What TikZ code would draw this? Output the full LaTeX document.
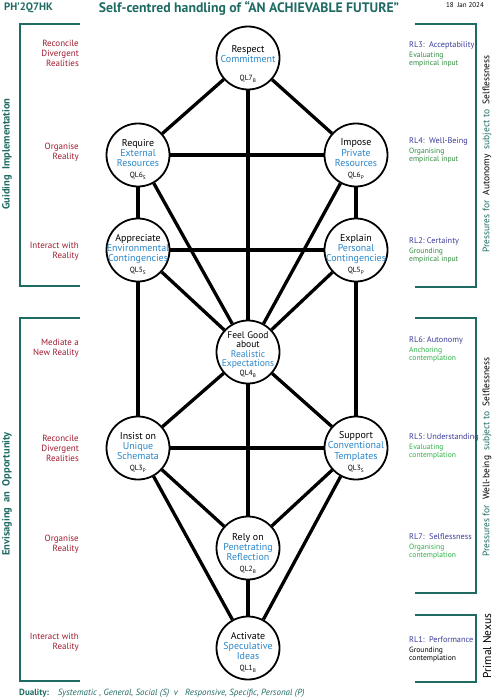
\documentclass[tikz,border=0pt]{standalone}
\usepackage{fontspec}
\setmainfont{PT Sans}
\definecolor{phteal}{HTML}{1F6B64}
\definecolor{realred}{HTML}{A0192E}
\definecolor{qblue}{HTML}{2A86C9}
\definecolor{rlblue}{HTML}{3B3C98}
\definecolor{empgreen}{HTML}{2E8A3E}
\definecolor{congreen}{HTML}{2EAF48}
\newcommand{\qb}[1]{\textcolor{qblue}{#1}}
\newcommand{\rlname}[1]{\textcolor{rlblue}{\fontsize{8.3}{9}\selectfont #1}\\[2bp]}

\begin{document}
\begin{tikzpicture}[x=1bp,y=-1bp,
    qnode/.style={draw,circle,line width=1.8bp,minimum size=63bp,inner sep=0},
    qtext/.style={align=center,inner sep=0,font=\fontsize{10}{10.5}\selectfont},
    qlab/.style={inner sep=0,font=\fontsize{7.5}{8}\selectfont},
    link/.style={line width=3.3bp},
    bracket/.style={draw=phteal,line width=1.6bp},
    levellab/.style={anchor=east,align=right,inner sep=0,text=realred,font=\fontsize{9}{10}\selectfont},
    rllab/.style={anchor=north west,align=left,inner sep=0,font=\fontsize{7.6}{8.3}\selectfont},
    sidelab/.style={rotate=90,inner sep=0,font=\fontsize{9.5}{11}\selectfont}]
  \useasboundingbox (0,0) rectangle (495,700);

  % header
  \node[anchor=west,inner sep=0,text=phteal,font=\bfseries\fontsize{10.8}{12}\selectfont] (code) at (4,8) {PH’2Q7HK};
  \node[inner sep=0,text=phteal,font=\bfseries\fontsize{13.8}{15}\selectfont] (title) at (249,8) {Self-centred handling of “AN ACHIEVABLE FUTURE”};
  \node[anchor=east,inner sep=0,font=\fontsize{7}{8}\selectfont] (date) at (484,5) {18\ \ Jan 2024};

  % holons
  \node[qnode] (ql7) at (248,58) {};
  \node[qnode] (ql6s) at (138,155) {};
  \node[qnode] (ql6p) at (356,155) {};
  \node[qnode] (ql5s) at (138,250) {};
  \node[qnode] (ql5p) at (356,250) {};
  \node[qnode] (ql4) at (248,352) {};
  \node[qnode] (ql3p) at (138,448) {};
  \node[qnode] (ql3s) at (356,448) {};
  \node[qnode] (ql2) at (248,548) {};
  \node[qnode] (ql1) at (248,648) {};

  \node[qtext] (t7) at ([yshift=4bp]ql7) {Respect\\\qb{Commitment}};
  \node[qtext] (t6s) at ([yshift=2bp]ql6s) {Require\\\qb{External}\\\qb{Resources}};
  \node[qtext] (t6p) at ([yshift=2bp]ql6p) {Impose\\\qb{Private}\\\qb{Resources}};
  \node[qtext] (t5s) at ([yshift=1bp]ql5s) {Appreciate\\\qb{Environmental}\\\qb{Contingencies}};
  \node[qtext] (t5p) at ([yshift=1bp]ql5p) {Explain\\\qb{Personal}\\\qb{Contingencies}};
  \node[qtext,font=\fontsize{9.6}{9.5}\selectfont] (t4) at ([yshift=2bp]ql4) {Feel Good\\about\\\qb{Realistic}\\\qb{Expectations}};
  \node[qtext] (t3p) at ([yshift=2bp]ql3p) {Insist on\\\qb{Unique}\\\qb{Schemata}};
  \node[qtext] (t3s) at ([yshift=2bp]ql3s) {Support\\\qb{Conventional}\\\qb{Templates}};
  \node[qtext] (t2) at ([yshift=1bp]ql2) {Rely on\\\qb{Penetrating}\\\qb{Reflection}};
  \node[qtext] (t1) at ([yshift=2bp]ql1) {Activate\\\qb{Speculative}\\\qb{Ideas}};

  \node[qlab] (l7) at ([yshift=-21bp]ql7) {QL7\textsubscript{B}};
  \node[qlab] (l6s) at ([yshift=-21bp]ql6s) {QL6\textsubscript{S}};
  \node[qlab] (l6p) at ([yshift=-21bp]ql6p) {QL6\textsubscript{P}};
  \node[qlab] (l5s) at ([yshift=-21bp]ql5s) {QL5\textsubscript{S}};
  \node[qlab] (l5p) at ([yshift=-21bp]ql5p) {QL5\textsubscript{P}};
  \node[qlab] (l4) at ([yshift=-22bp]ql4) {QL4\textsubscript{B}};
  \node[qlab] (l3p) at ([yshift=-21bp]ql3p) {QL3\textsubscript{P}};
  \node[qlab] (l3s) at ([yshift=-21bp]ql3s) {QL3\textsubscript{S}};
  \node[qlab] (l2) at ([yshift=-22bp]ql2) {QL2\textsubscript{B}};
  \node[qlab] (l1) at ([yshift=-21bp]ql1) {QL1\textsubscript{B}};

  \foreach \a/\b in {ql7/ql6s,ql7/ql6p,ql7/ql4,ql6s/ql6p,ql6s/ql5s,ql6p/ql5p,ql6s/ql4,ql6p/ql4,
      ql5s/ql5p,ql5s/ql4,ql5p/ql4,ql5s/ql3p,ql5p/ql3s,ql4/ql3p,ql4/ql3s,ql4/ql2,
      ql3p/ql3s,ql3p/ql2,ql3s/ql2,ql3p/ql1,ql3s/ql1,ql2/ql1}
    \draw[link] (\a) -- (\b);

  % left side
  \draw[bracket] (80,24) -- (20,24) -- (20,286) -- (80,286);
  \draw[bracket] (80,318) -- (20,318) -- (20,681) -- (80,681);
  \node[sidelab,text=phteal,font=\bfseries\fontsize{10.5}{12}\selectfont] (guide) at (7,154) {Guiding\ \ Implementation};
  \node[sidelab,text=phteal,font=\bfseries\fontsize{10.5}{12}\selectfont] (envis) at (7,494) {Envisaging\ \ an\ \ Opportunity};
  \node[levellab] (lev7a) at (79,53) {Reconcile\\Divergent\\Realities};
  \node[levellab] (lev6a) at (79,152) {Organise\\Reality};
  \node[levellab] (lev5a) at (79,251) {Interact with\\Reality};
  \node[levellab] (lev4) at (79,348) {Mediate a\\New Reality};
  \node[levellab] (lev3) at (79,448) {Reconcile\\Divergent\\Realities};
  \node[levellab] (lev2) at (79,544) {Organise\\Reality};
  \node[levellab] (lev1) at (79,642) {Interact with\\Reality};

  % right side
  \draw[bracket] (415,24) -- (476,24) -- (476,287) -- (415,287);
  \draw[bracket] (415,318) -- (476,318) -- (476,593) -- (415,593);
  \draw[bracket] (415,615) -- (476,615) -- (476,682) -- (415,682);
  \node[sidelab] (auto) at (487,154) {\textcolor{phteal}{Pressures for} \ Autonomy \ \textcolor{phteal}{subject to} \ Selflessness};
  \node[sidelab] (well) at (487,457) {\textcolor{phteal}{Pressures for} \ Well-being \ \textcolor{phteal}{subject to} \ Selflessness};
  \node[sidelab,font=\fontsize{11.5}{12}\selectfont] (nexus) at (487,646) {Primal Nexus};
  \node[rllab,text=empgreen] (rl3) at (409,41) {\rlname{RL3:\ \ Acceptability}Evaluating\\empirical input};
  \node[rllab,text=empgreen] (rl4) at (409,137) {\rlname{RL4:\ \ Well-Being}Organising\\empirical input};
  \node[rllab,text=empgreen] (rl2) at (409,237) {\rlname{RL2:\ Certainty}Grounding\\empirical input};
  \node[rllab,text=congreen] (rl6) at (409,336) {\rlname{RL6:\ Autonomy}Anchoring\\contemplation};
  \node[rllab,text=congreen] (rl5) at (409,433) {\rlname{RL5:\ Understanding}Evaluating\\contemplation};
  \node[rllab,text=congreen] (rl7) at (409,533) {\rlname{RL7:\ \ Selflessness}Organising\\contemplation};
  \node[rllab,text=black] (rl1) at (409,636) {\rlname{RL1:\ \ Performance}Grounding\\contemplation};

  % footer
  \node[anchor=west,inner sep=0,text=phteal,font=\fontsize{9}{10}\selectfont] (duality) at (19,693)
    {\textbf{Duality:}\quad\textit{Systematic , General, Social (S)\ \ v\ \ \ Responsive, Specific, Personal (P)}};
\end{tikzpicture}
\end{document}
